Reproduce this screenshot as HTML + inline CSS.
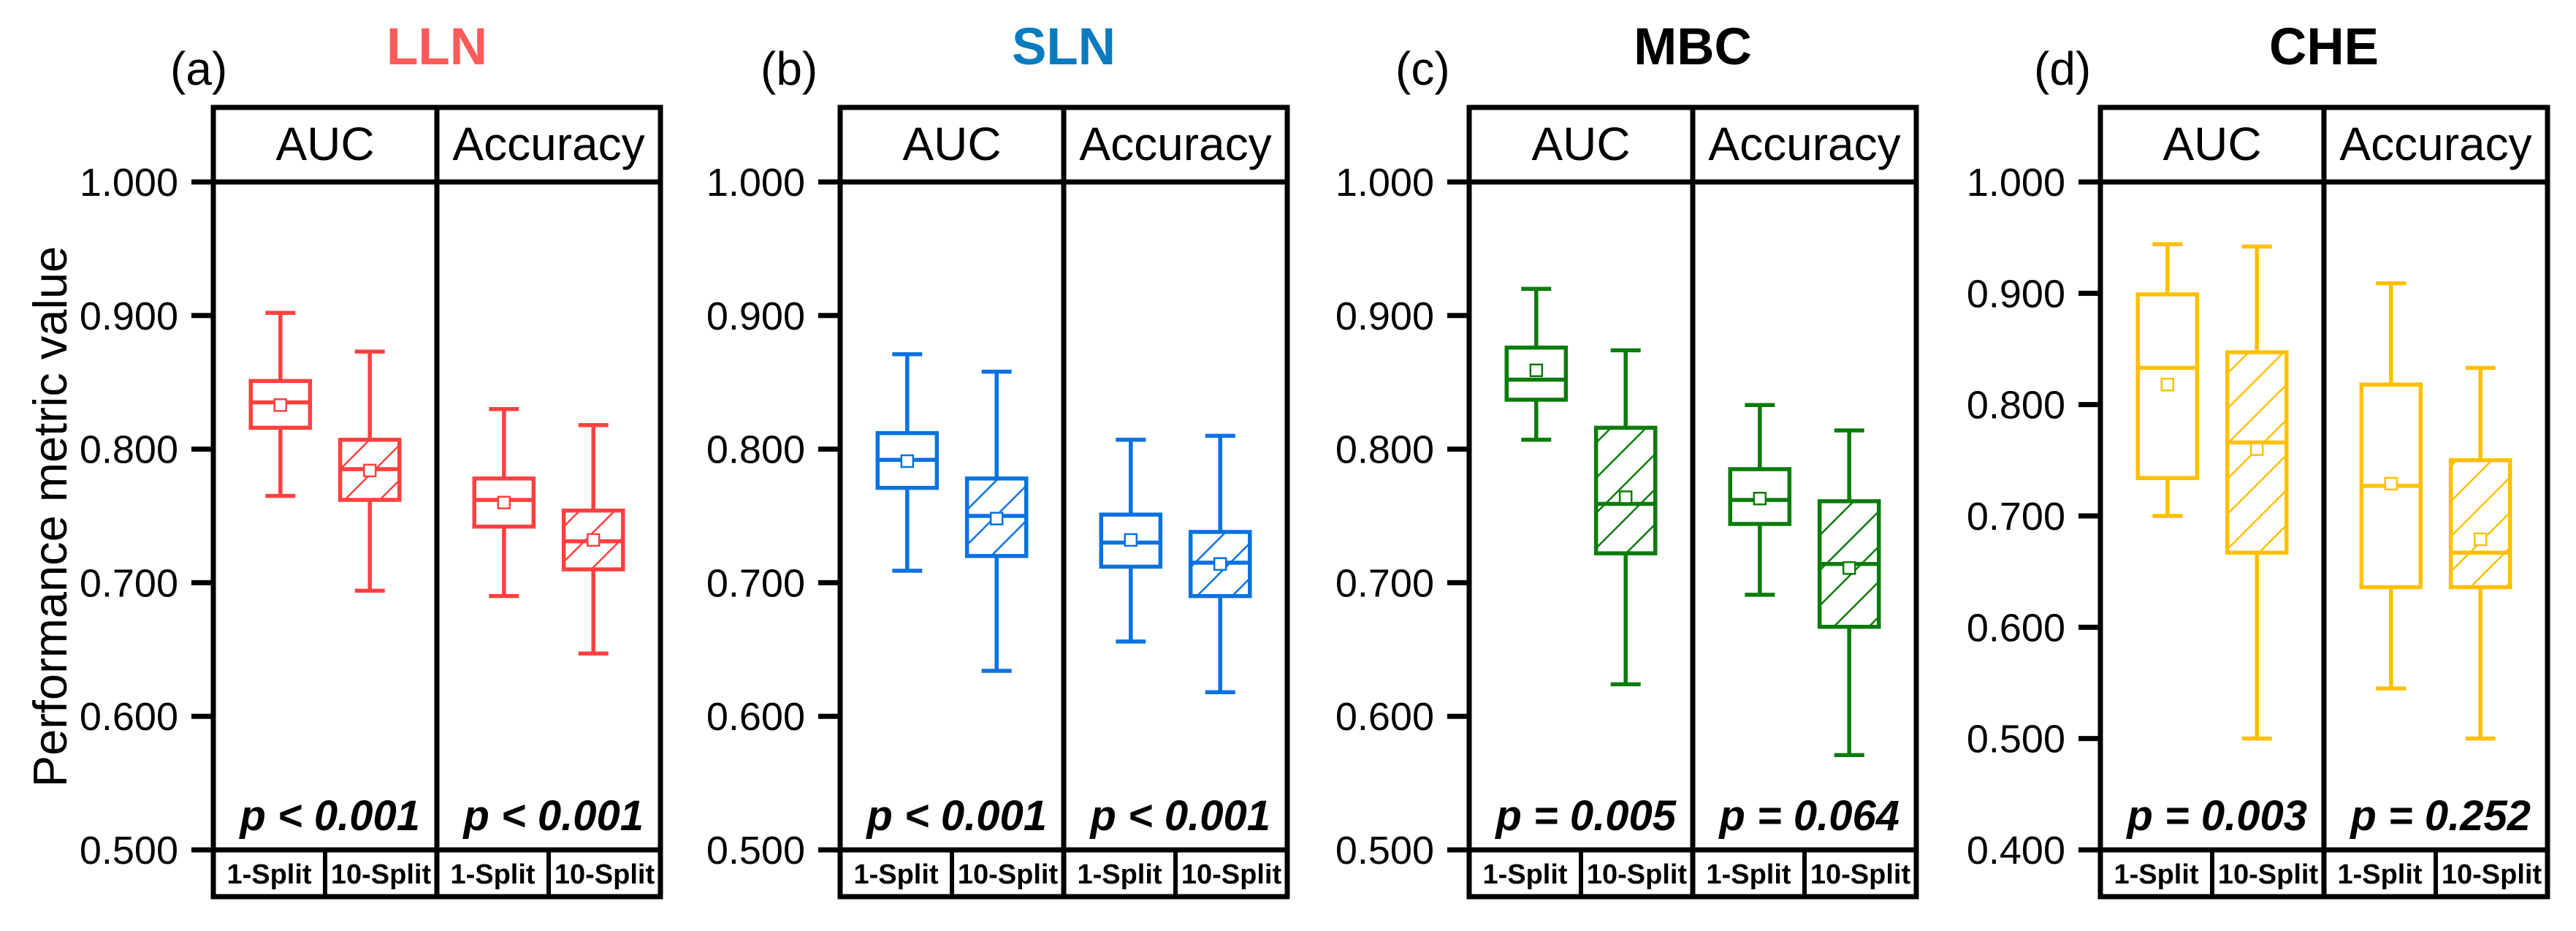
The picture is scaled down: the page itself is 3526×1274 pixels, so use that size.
<!DOCTYPE html>
<html><head><meta charset="utf-8">
<style>
html,body{margin:0;padding:0;background:#fff;}
svg{display:block;font-family:"Liberation Sans",Arial,sans-serif;}
</style></head>
<body>
<svg id="chart" width="3526" height="1274" viewBox="0 0 3526 1274" xmlns="http://www.w3.org/2000/svg">
<defs>
<pattern id="h0" patternUnits="userSpaceOnUse" width="34" height="34" patternTransform="rotate(45)"><rect width="34" height="34" fill="#fff"/><line x1="0" y1="0" x2="0" y2="34" stroke="#FF4040" stroke-width="5"/></pattern>
<pattern id="h1" patternUnits="userSpaceOnUse" width="34" height="34" patternTransform="rotate(45)"><rect width="34" height="34" fill="#fff"/><line x1="0" y1="0" x2="0" y2="34" stroke="#0A72E0" stroke-width="5"/></pattern>
<pattern id="h2" patternUnits="userSpaceOnUse" width="34" height="34" patternTransform="rotate(45)"><rect width="34" height="34" fill="#fff"/><line x1="0" y1="0" x2="0" y2="34" stroke="#0B7B0B" stroke-width="5"/></pattern>
<pattern id="h3" patternUnits="userSpaceOnUse" width="34" height="34" patternTransform="rotate(45)"><rect width="34" height="34" fill="#fff"/><line x1="0" y1="0" x2="0" y2="34" stroke="#FFC000" stroke-width="5"/></pattern>
</defs>
<text transform="translate(91,707) rotate(-90)" text-anchor="middle" font-size="65">Performance metric value</text>
</svg>
<script>
// Data arrays: [whiskerLow, Q1, median, Q3, whiskerHigh, mean] per box
const panelNames = ["LLN","SLN","MBC","CHE"];
const panelLetters = ["(a)","(b)","(c)","(d)"];
const metrics = ["AUC","Accuracy"];
const splits = ["1-Split","10-Split"];
const lln = [[0.765,0.816,0.835,0.851,0.902,0.833],[0.694,0.762,0.785,0.807,0.873,0.784],[0.690,0.742,0.762,0.778,0.830,0.760],[0.647,0.710,0.731,0.754,0.818,0.732]];
const sln = [[0.709,0.771,0.792,0.812,0.871,0.791],[0.634,0.720,0.750,0.778,0.858,0.748],[0.656,0.712,0.730,0.751,0.807,0.732],[0.618,0.690,0.715,0.738,0.810,0.714]];
const mbc = [[0.807,0.837,0.852,0.876,0.920,0.859],[0.624,0.722,0.759,0.816,0.874,0.764],[0.691,0.744,0.762,0.785,0.833,0.763],[0.571,0.667,0.714,0.761,0.814,0.711]];
const che = [[0.700,0.734,0.833,0.899,0.944,0.818],[0.500,0.667,0.766,0.847,0.942,0.760],[0.545,0.636,0.727,0.818,0.909,0.729],[0.500,0.636,0.667,0.750,0.833,0.679]];
const pValues = [["p < 0.001","p < 0.001"],["p < 0.001","p < 0.001"],["p = 0.005","p = 0.064"],["p = 0.003","p = 0.252"]];
const yMins = [0.5,0.5,0.5,0.4];
const yMax = 1.0;
const tickLabelsA = ["0.500","0.600","0.700","0.800","0.900","1.000"];
const tickLabelsD = ["0.400","0.500","0.600","0.700","0.800","0.900","1.000"];

const allData = [lln, sln, mbc, che];
const tickSets = [tickLabelsA, tickLabelsA, tickLabelsA, tickLabelsD];
const lefts = [292, 1150, 2011, 2875];
const PW = 612;
const colors = ["#FF4040","#0A72E0","#0B7B0B","#FFC000"];
const titleColors = ["#FF5A5A","#0A7BBF","#000","#000"];
const letterX = [233, 1041, 1910, 2784];
const TOP=147, HDR=249, BOT=1163, LB=1227;
const svg = document.getElementById('chart');
const NS = "http://www.w3.org/2000/svg";
function mk(tag, attrs, parent){const e=document.createElementNS(NS,tag);for(const k in attrs)e.setAttribute(k,attrs[k]);(parent||svg).appendChild(e);return e;}

for(let p=0;p<4;p++){
  const L=lefts[p], R=L+PW, M=L+PW/2;
  const g = mk('g',{});
  
  
  const ymin=yMins[p];
  const y = v => BOT - (v-ymin)/(yMax-ymin)*(BOT-HDR);
  const t = mk('text',{x:M,y:88,'text-anchor':'middle','font-size':71,'font-weight':'bold',fill:titleColors[p]},g);
  t.textContent = panelNames[p];
  
  
  const lt = mk('text',{x:letterX[p],y:116,'font-size':64},g);
  lt.textContent = panelLetters[p];
  
  
  const ticks = tickSets[p];
  ticks.forEach(lbl=>{
    const v=parseFloat(lbl), yy=y(v);
    const tl = mk('line',{x1:L-30,x2:L,y1:yy,y2:yy,stroke:'#000','stroke-width':7},g);
    
    
    const tx = mk('text',{x:L-48,y:yy+19,'text-anchor':'end','font-size':54},g);
    tx.textContent = lbl;
    
    
  });
  const data = allData[p];
  for(let k=0;k<4;k++){
    const half=Math.floor(k/2), s=k%2;
    const hx = L + half*PW/2;
    const cx = hx + (s===0?0.30:0.70)*PW/2;
    const bw = 0.265*PW/2, cw = 41;
    const d = data[k];
    const bg = mk('g',{stroke:colors[p],'stroke-width':5.5,fill:'none'},g);
    
    
    mk('line',{x1:cx,x2:cx,y1:y(d[4]),y2:y(d[3])},bg);
    mk('line',{x1:cx,x2:cx,y1:y(d[1]),y2:y(d[0])},bg);
    mk('line',{x1:cx-cw/2,x2:cx+cw/2,y1:y(d[4]),y2:y(d[4])},bg);
    mk('line',{x1:cx-cw/2,x2:cx+cw/2,y1:y(d[0]),y2:y(d[0])},bg);
    mk('rect',{x:cx-bw/2,y:y(d[3]),width:bw,height:y(d[1])-y(d[3]),fill:s===1?'url(#h'+p+')':'#fff'},bg);
    mk('line',{x1:cx-bw/2,x2:cx+bw/2,y1:y(d[2]),y2:y(d[2])},bg);
    mk('rect',{x:cx-8,y:y(d[5])-8,width:16,height:16,fill:'#fff','stroke-width':2.5},bg);
  }
  const fr = mk('g',{stroke:'#000','stroke-width':7,fill:'none'},g);
  
  
  mk('rect',{x:L,y:TOP,width:PW,height:LB-TOP},fr);
  mk('line',{x1:L,x2:R,y1:HDR,y2:HDR},fr);
  mk('line',{x1:L,x2:R,y1:BOT,y2:BOT},fr);
  mk('line',{x1:M,x2:M,y1:TOP,y2:LB},fr);
  mk('line',{x1:L+PW/4,x2:L+PW/4,y1:BOT,y2:LB,'stroke-width':6},fr);
  mk('line',{x1:L+3*PW/4,x2:L+3*PW/4,y1:BOT,y2:LB,'stroke-width':6},fr);
  for(let h=0;h<2;h++){
    const hx=L+h*PW/2;
    const ht = mk('text',{x:hx+PW/4,y:219,'text-anchor':'middle','font-size':64},g);
    ht.textContent = metrics[h];
    
    
    const pt = mk('text',{x:hx+PW/2-23,y:1136,'text-anchor':'end','font-size':58,'font-weight':'bold','font-style':'italic'},g);
    pt.textContent = pValues[p][h];
    
    
    for(let s=0;s<2;s++){
      const st = mk('text',{x:hx+(s+0.5)*PW/4,y:1209,'text-anchor':'middle','font-size':38,'font-weight':'bold'},g);
      st.textContent = splits[s];
      
      
    }
  }
}
</script>
</body></html>
